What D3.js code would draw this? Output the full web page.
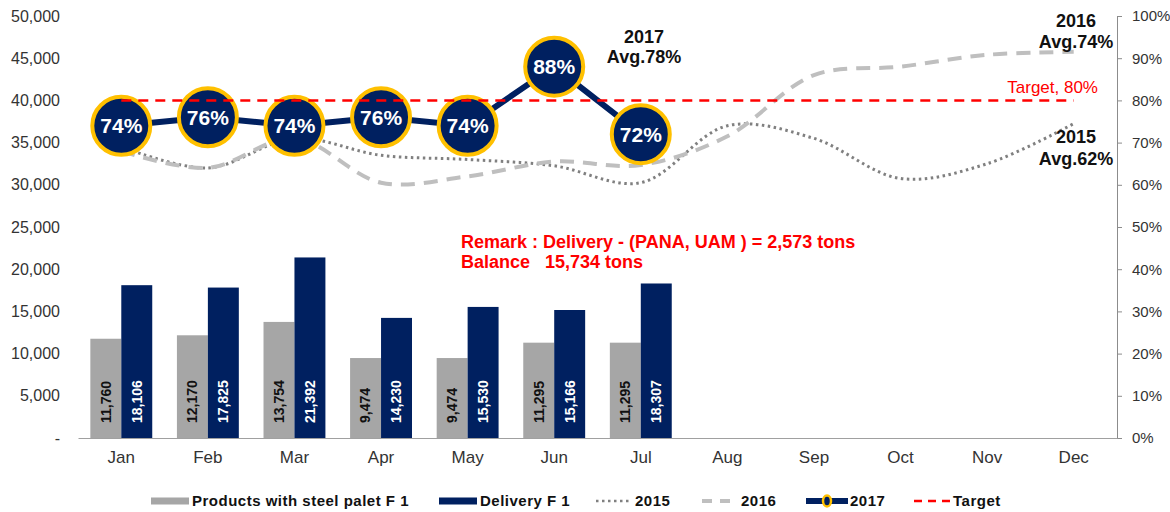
<!DOCTYPE html>
<html>
<head>
<meta charset="utf-8">
<script src="https://cdn.jsdelivr.net/npm/d3@7"></script>
<style>
  body { margin: 0; background: #fff; }
  svg { display: block; font-family: "Liberation Sans", Arial, sans-serif; }
</style>
</head>
<body>
<svg width="1170" height="512"></svg>
<script>
// data
var months = ["Jan", "Feb", "Mar", "Apr", "May", "Jun", "Jul", "Aug", "Sep", "Oct", "Nov", "Dec"];
var palletValues = [11760, 12170, 13754, 9474, 9474, 11295, 11295];
var deliveryValues = [18106, 17825, 21392, 14230, 15530, 15166, 18307];
var util2015 = [0.69, 0.64, 0.71, 0.67, 0.66, 0.645, 0.605, 0.74, 0.71, 0.615, 0.65, 0.745];
var util2016 = [0.68, 0.64, 0.71, 0.605, 0.62, 0.655, 0.647, 0.715, 0.86, 0.88, 0.908, 0.915];
var util2017 = [0.74, 0.76, 0.74, 0.76, 0.74, 0.88, 0.72];
var targetValue = 0.8;
var leftTicks = [0, 5000, 10000, 15000, 20000, 25000, 30000, 35000, 40000, 45000, 50000];
var rightTicks = [0, 0.1, 0.2, 0.3, 0.4, 0.5, 0.6, 0.7, 0.8, 0.9, 1];

var navy = "#002060", grey = "#A6A6A6", gold = "#FFC000", red = "#FF0000";

var svg = d3.select("svg"),
	plot = {left: 78, right: 1117, top: 16, bottom: 438};

// scales
var x0 = d3.scaleBand()
	.domain(months)
	.range([plot.left, plot.right])
	.paddingInner(0.285)
	.paddingOuter(0.1425);

var x1 = d3.scaleBand()
	.domain(["pallet", "delivery"])
	.range([0, x0.bandwidth()]);

var yLeft = d3.scaleLinear().domain([0, 50000]).range([plot.bottom, plot.top]);
var yRight = d3.scaleLinear().domain([0, 1]).range([plot.bottom, plot.top]);

function cx(m) { return x0(m) + x0.bandwidth() / 2; }

// left axis (no line)
var gl = svg.append("g")
	.attr("transform", "translate(64,0)")
	.call(d3.axisLeft(yLeft).tickValues(leftTicks).tickSize(0).tickPadding(4)
		.tickFormat(function(d) { return d === 0 ? "-" : d3.format(",")(d); }));
gl.select(".domain").remove();
gl.selectAll("text").attr("font-size", 16).attr("fill", "#333").attr("font-family", null);

// right axis
var gr = svg.append("g")
	.attr("transform", "translate(" + plot.right + ",0)")
	.call(d3.axisRight(yRight).tickValues(rightTicks).tickSize(5).tickSizeOuter(0).tickPadding(10)
		.tickFormat(d3.format(".0%")));
gr.select(".domain").attr("stroke", "#8c8c8c");
gr.selectAll(".tick line").attr("stroke", "#8c8c8c");
gr.selectAll("text").attr("font-size", 15).attr("fill", "#333").attr("font-family", null);

// bottom axis
var gb = svg.append("g")
	.attr("transform", "translate(0," + plot.bottom + ")")
	.call(d3.axisBottom(x0).tickSize(0).tickSizeOuter(0).tickPadding(13));
gb.select(".domain").attr("stroke", "#a0a0a0");
gb.selectAll("text").attr("font-size", 17).attr("fill", "#333").attr("font-family", null);

// bars
var barData = palletValues.map(function(v, i) {
	return {month: months[i], pallet: v, delivery: deliveryValues[i]};
});

var groups = svg.append("g").selectAll("g")
	.data(barData)
	.enter().append("g")
		.attr("transform", function(d) { return "translate(" + x0(d.month) + ",0)"; });

var cells = groups.selectAll("g")
	.data(function(d) { return ["pallet", "delivery"].map(function(k) { return {key: k, value: d[k]}; }); })
	.enter().append("g");

cells.append("rect")
	.attr("x", function(d) { return x1(d.key); })
	.attr("y", function(d) { return yLeft(d.value); })
	.attr("width", x1.bandwidth())
	.attr("height", function(d) { return plot.bottom - yLeft(d.value); })
	.attr("fill", function(d) { return d.key === "pallet" ? grey : navy; });

cells.append("text")
	.attr("transform", function(d) {
		return "translate(" + (x1(d.key) + x1.bandwidth() / 2) + "," + (plot.bottom - 15) + ") rotate(-90)";
	})
	.attr("dy", "0.35em")
	.attr("font-size", 14)
	.attr("font-weight", "bold")
	.attr("fill", function(d) { return d.key === "pallet" ? "#111" : "#fff"; })
	.text(function(d) { return d3.format(",")(d.value); });

// 2015 / 2016 smooth lines
var smooth = d3.line()
	.x(function(d, i) { return cx(months[i]); })
	.y(function(d) { return yRight(d); })
	.curve(d3.curveCatmullRom);

svg.append("path")
	.attr("d", smooth(util2015))
	.attr("fill", "none")
	.attr("stroke", "#808080")
	.attr("stroke-width", 3)
	.attr("stroke-dasharray", "2.5,3.5");

svg.append("path")
	.attr("d", smooth(util2016))
	.attr("fill", "none")
	.attr("stroke", "#BFBFBF")
	.attr("stroke-width", 4)
	.attr("stroke-dasharray", "14,9");

// 2017 line with big markers
var straight = d3.line()
	.x(function(d, i) { return cx(months[i]); })
	.y(function(d) { return yRight(d); });

svg.append("path")
	.attr("d", straight(util2017))
	.attr("fill", "none")
	.attr("stroke", navy)
	.attr("stroke-width", 6);

var marks = svg.append("g").selectAll("g")
	.data(util2017)
	.enter().append("g")
		.attr("transform", function(d, i) { return "translate(" + cx(months[i]) + "," + yRight(d) + ")"; });

marks.append("circle")
	.attr("r", 29)
	.attr("fill", navy)
	.attr("stroke", gold)
	.attr("stroke-width", 4);

marks.append("text")
	.attr("text-anchor", "middle")
	.attr("dy", "0.36em")
	.attr("font-size", 21)
	.attr("font-weight", "bold")
	.attr("fill", "#fff")
	.text(function(d) { return d3.format(".0%")(d); });

// target line
svg.append("line")
	.attr("x1", cx("Jan"))
	.attr("x2", cx("Dec"))
	.attr("y1", yRight(targetValue))
	.attr("y2", yRight(targetValue))
	.attr("stroke", red)
	.attr("stroke-width", 2.5)
	.attr("stroke-dasharray", "10,7");

// annotations
function label(x, y, lines, opts) {
	var t = svg.append("text")
		.attr("x", x)
		.attr("y", y)
		.attr("text-anchor", opts.anchor || "middle")
		.attr("font-size", opts.size)
		.attr("font-weight", opts.weight || "bold")
		.attr("fill", opts.color || "#111")
		.style("white-space", "pre");
	lines.forEach(function(s, i) {
		t.append("tspan").attr("x", x).attr("dy", i === 0 ? 0 : opts.lh).text(s);
	});
}

label(644, 43, ["2017", "Avg.78%"], {size: 18, lh: 20});
label(1076, 27, ["2016", "Avg.74%"], {size: 18, lh: 21});
label(1076, 143, ["2015", "Avg.62%"], {size: 18, lh: 22});
label(1098, 93, ["Target, 80%"], {size: 17, weight: "normal", color: red, anchor: "end"});
label(461, 248, ["Remark : Delivery - (PANA, UAM ) = 2,573 tons", "Balance   15,734 tons"],
	{size: 18, lh: 20, color: red, anchor: "start"});

// legend
var legendItems = [
	{name: "Products with steel palet F 1", type: "pallet", x: 151},
	{name: "Delivery F 1", type: "delivery", x: 439},
	{name: "2015", type: "l2015", x: 594},
	{name: "2016", type: "l2016", x: 700},
	{name: "2017", type: "l2017", x: 806},
	{name: "Target", type: "target", x: 912}
];

var legend = svg.append("g")
	.attr("transform", "translate(0,501)")
	.selectAll("g")
	.data(legendItems)
	.enter().append("g")
		.attr("transform", function(d) { return "translate(" + d.x + ",0)"; });

legend.each(function(d) {
	var g = d3.select(this), w = 38;
	if (d.type === "pallet" || d.type === "delivery") {
		g.append("rect").attr("x", 0).attr("y", -3.5).attr("width", w).attr("height", 7)
			.attr("fill", d.type === "pallet" ? grey : navy);
	} else if (d.type === "l2015") {
		g.append("line").attr("x1", 2).attr("x2", w).attr("stroke", "#808080")
			.attr("stroke-width", 2.5).attr("stroke-dasharray", "2.5,3.5");
	} else if (d.type === "l2016") {
		g.append("line").attr("x1", 2).attr("x2", w).attr("stroke", "#BFBFBF")
			.attr("stroke-width", 4).attr("stroke-dasharray", "10,8");
	} else if (d.type === "l2017") {
		g.append("line").attr("x1", 0).attr("x2", w + 4).attr("stroke", navy).attr("stroke-width", 6);
		g.append("ellipse").attr("cx", (w + 4) / 2).attr("rx", 4).attr("ry", 5.5)
			.attr("fill", navy).attr("stroke", gold).attr("stroke-width", 2.5);
	} else {
		g.append("line").attr("x1", 2).attr("x2", w).attr("stroke", red)
			.attr("stroke-width", 2.5).attr("stroke-dasharray", "8,6");
	}
	g.append("text")
		.attr("x", d.type === "l2017" ? w + 6 : w + 3)
		.attr("dy", "0.36em")
		.attr("font-size", 15)
		.attr("font-weight", "bold")
		.attr("letter-spacing", 0.5)
		.attr("fill", "#111")
		.text(d.name);
});
</script>
</body>
</html>
